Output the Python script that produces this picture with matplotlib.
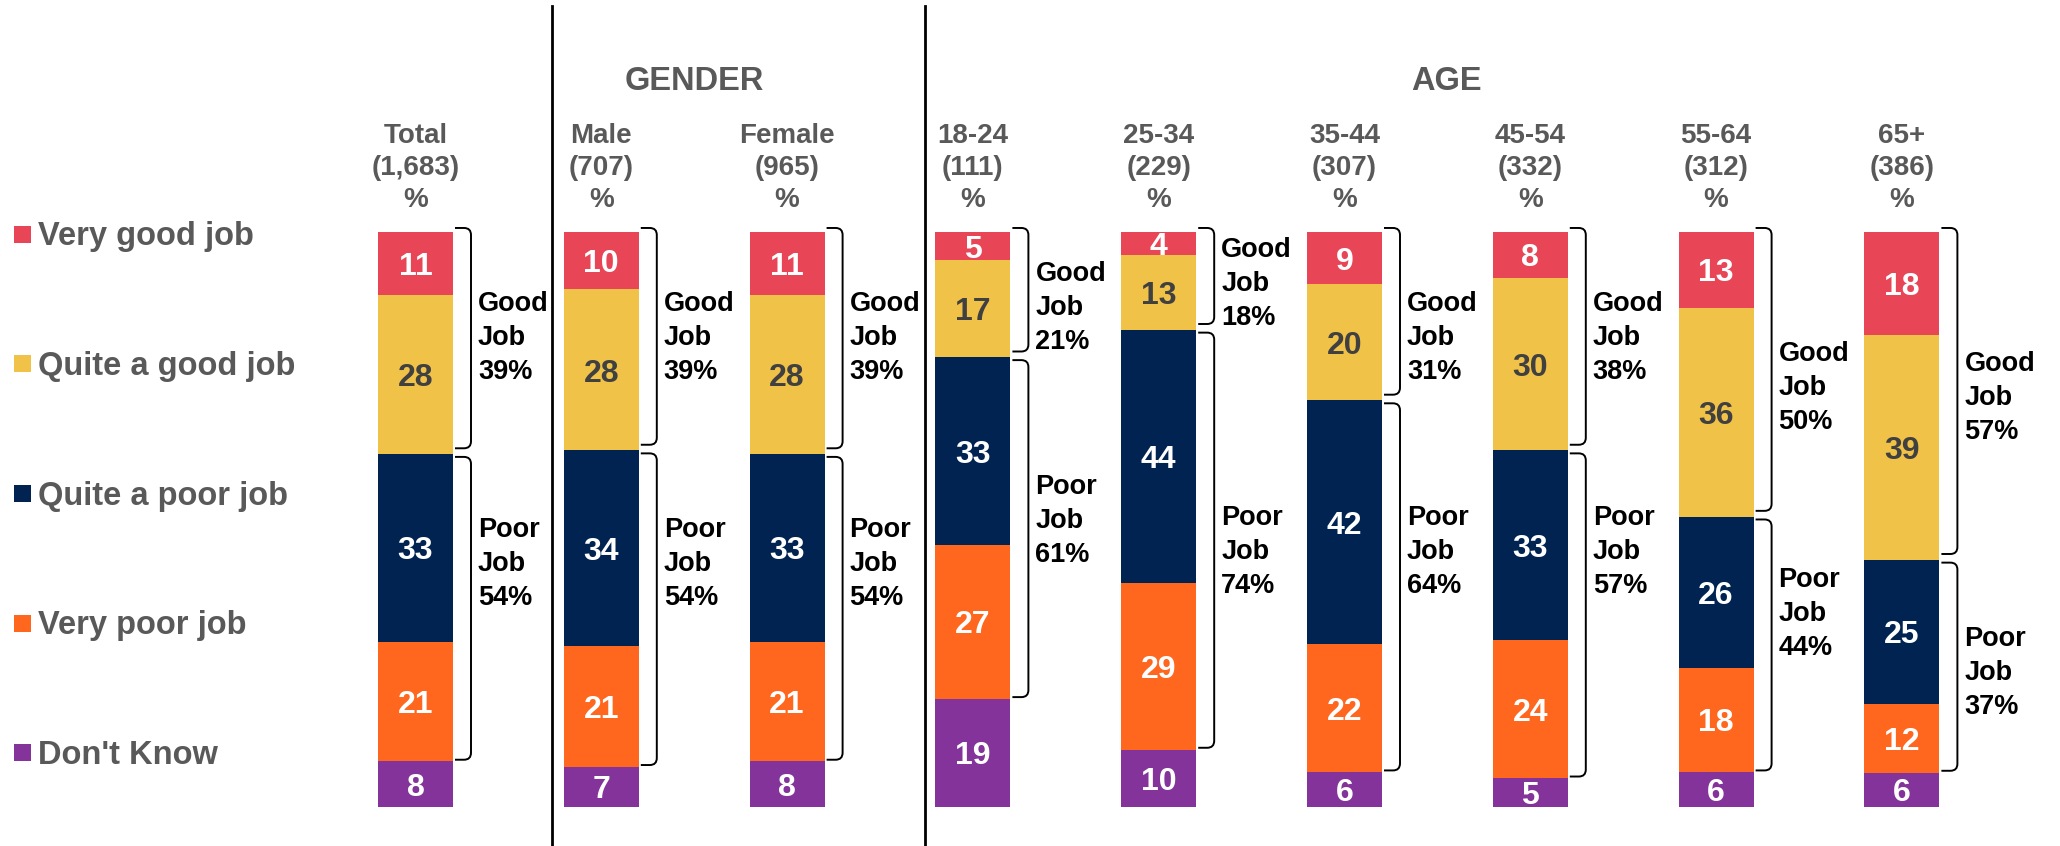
import numpy as np
import matplotlib
matplotlib.use("Agg")
import matplotlib.pyplot as plt
from matplotlib.patches import Rectangle, PathPatch
from matplotlib.path import Path

plt.rcParams['font.family'] = ['Liberation Sans', 'DejaVu Sans']
plt.rcParams['font.weight'] = 'bold'

# data
columns = ["Total", "Male", "Female", "18-24", "25-34", "35-44", "45-54", "55-64", "65+"]
bases = ["(1,683)", "(707)", "(965)", "(111)", "(229)", "(307)", "(332)", "(312)", "(386)"]
categories = ["Very good job", "Quite a good job", "Quite a poor job", "Very poor job", "Don't Know"]
very_good = [11, 10, 11, 5, 4, 9, 8, 13, 18]
quite_good = [28, 28, 28, 17, 13, 20, 30, 36, 39]
quite_poor = [33, 34, 33, 33, 44, 42, 33, 26, 25]
very_poor = [21, 21, 21, 27, 29, 22, 24, 18, 12]
dont_know = [8, 7, 8, 19, 10, 6, 5, 6, 6]
good_net = [39, 39, 39, 21, 18, 31, 38, 50, 57]
poor_net = [54, 54, 54, 61, 74, 64, 57, 44, 37]

colors = ["#E84557", "#F0C248", "#002352", "#FF671F", "#833399"]
text_colors = ["white", "#404040", "white", "white", "white"]
gray = "#595959"

# layout (pixels of the 2060x846 picture)
X0, DX = 415.5, 185.8     # first bar centre, bar spacing
Y0, DY = 232.0, 5.75      # top of bars, pixels per percent
def X(px):
    return (px - X0) / DX
def Y(px):
    return (px - Y0) / DY

good_label_px = [335, 335, 335, 305, 281, 335, 335, 385, 395]
poor_label_px = [561, 561, 561, 518, 549, 549, 549, 611, 670]

fig = plt.figure(figsize=(20.6, 8.46), dpi=100)
ax = fig.add_axes([0, 0, 1, 1])
ax.set_xlim(X(0), X(2060))
ax.set_ylim(Y(846), Y(0))
ax.axis('off')

series = np.array([very_good, quite_good, quite_poor, very_poor, dont_know], dtype=float)
totals = series.sum(axis=0)
shares = series / totals * 100
x = np.arange(len(columns))
bw = 75 / DX

bottom = np.zeros(len(columns))
for i in range(len(categories)):
    ax.bar(x, shares[i], width=bw, bottom=bottom, color=colors[i], linewidth=0)
    for k in range(len(columns)):
        ax.text(x[k], bottom[k] + shares[i][k] / 2, str(int(series[i][k])),
                ha='center', va='center_baseline', fontsize=23,
                color=text_colors[i], fontweight='bold')
    bottom += shares[i]

good_cum = shares[0] + shares[1]
poor_cum = good_cum + shares[2] + shares[3]


def bracket(xc, y_top, y_bot):
    xl = xc + bw / 2 + 2 / DX
    xr = xc + bw / 2 + 18 / DX
    rx, ry = 7 / DX, 7 / DY
    verts = [(xl, y_top), (xr - rx, y_top), (xr, y_top), (xr, y_top + ry),
             (xr, y_bot - ry), (xr, y_bot), (xr - rx, y_bot), (xl, y_bot)]
    codes = [Path.MOVETO, Path.LINETO, Path.CURVE3, Path.CURVE3,
             Path.LINETO, Path.CURVE3, Path.CURVE3, Path.LINETO]
    ax.add_patch(PathPatch(Path(verts, codes), fill=False, lw=1.4,
                           edgecolor='black', clip_on=False))


def net_label(xc, centre_px, word, value):
    tx = xc + bw / 2 + 25 / DX
    mid = centre_px + 10
    for j, line in enumerate([word, "Job", f"{value}%"]):
        ax.text(tx, Y(mid + (j - 1) * 33.6), line, ha='left', va='baseline',
                fontsize=19.5, color='black', fontweight='bold')


for k in range(len(columns)):
    bracket(x[k], -0.7, good_cum[k] - 1.0)
    bracket(x[k], good_cum[k] + 0.5, poor_cum[k] - 0.3)
    net_label(x[k], good_label_px[k], "Good", good_net[k])
    net_label(x[k], poor_label_px[k], "Poor", poor_net[k])
    for j, line in enumerate([columns[k], bases[k], "%"]):
        ax.text(x[k], Y(143 + j * 32), line, ha='center', va='baseline',
                fontsize=20, color=gray, fontweight='bold')

# group headings
ax.text(X(694), Y(90), "GENDER", ha='center', va='baseline', fontsize=23.5,
        color=gray, fontweight='bold')
ax.text(X(1446), Y(90), "AGE", ha='center', va='baseline', fontsize=23.5,
        color=gray, fontweight='bold')

# dividers
for xp in [551.7, 925]:
    ax.plot([X(xp), X(xp)], [Y(6), Y(846)], color='black', lw=2, clip_on=False)

# legend
for i, name in enumerate(categories):
    cy = 234.5 + i * 129.5
    ax.add_patch(Rectangle((X(14), Y(cy - 8.5)), 17 / DX, 17 / DY,
                           color=colors[i], linewidth=0))
    ax.text(X(38), Y(cy + 11), name, ha='left', va='baseline', fontsize=23.5,
            color=gray, fontweight='bold')

fig.savefig("out.png", dpi=100)
